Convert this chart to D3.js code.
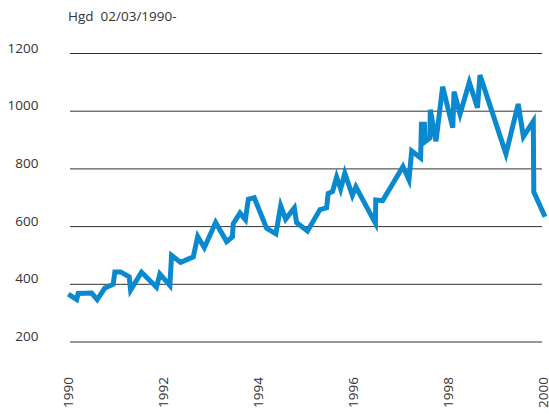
<!DOCTYPE html>
<html>
<head>
<meta charset="utf-8">
<script src="https://cdn.jsdelivr.net/npm/d3@7"></script>
<style>
  body { margin: 0; background: #fff; }
  text { font-family: "Open Sans", "Noto Sans", sans-serif; font-size: 13.5px; fill: #333; }
</style>
</head>
<body>
<div id="chart"></div>
<script>
// Hgd price
const dates = [
  "1990-01-01","1990-03-06","1990-03-18","1990-06-29","1990-08-11","1990-10-09","1990-12-12","1990-12-25",
  "1991-02-07","1991-04-14","1991-04-25","1991-07-18","1991-11-10","1991-12-06",
  "1992-02-21","1992-03-05","1992-05-14","1992-08-19","1992-09-22","1992-11-12",
  "1993-02-07","1993-05-02","1993-06-16","1993-06-22","1993-08-13","1993-09-24","1993-10-16","1993-12-01",
  "1994-03-06","1994-05-16","1994-06-22","1994-07-30","1994-10-05","1994-10-22",
  "1995-01-14","1995-04-20","1995-06-10","1995-06-22","1995-07-26","1995-08-26","1995-09-26","1995-10-28","1995-12-25",
  "1996-01-21","1996-06-19","1996-06-22","1996-08-14",
  "1997-01-17","1997-03-04","1997-03-25","1997-06-02","1997-06-08","1997-07-01","1997-07-05","1997-08-12","1997-08-15","1997-09-28","1997-11-18",
  "1998-02-04","1998-02-14","1998-04-01","1998-06-11","1998-08-13","1998-09-01",
  "1999-03-20","1999-06-22","1999-08-01","1999-10-16","1999-10-20",
  "2000-01-14"
];
const prices = [
  366, 347, 368, 370, 347, 387, 400, 443,
  443, 426, 380, 442, 390, 436,
  396, 500, 476, 495, 566, 527,
  614, 548, 565, 610, 647, 624, 695, 700,
  594, 575, 672, 626, 665, 614,
  585, 659, 665, 715, 722, 772, 730, 785, 708,
  738, 612, 692, 690,
  808, 762, 862, 838, 955, 955, 894, 907, 1005, 896, 1085,
  943, 1068, 990, 1100, 1012, 1125,
  852, 1025, 912, 965, 720,
  634
];
const yTicks = [200, 400, 600, 800, 1000, 1200];
const xTicks = [1990, 1992, 1994, 1996, 1998, 2000];
const title = "Hgd  02/03/1990-";

const width = 549, height = 414;
const parse = d3.timeParse("%Y-%m-%d");
const data = dates.map((d, i) => ({date: parse(d), value: prices[i]}));

const svg = d3.select("#chart").append("svg")
  .attr("width", width)
  .attr("height", height);

const x = d3.scaleTime()
  .domain([new Date(1990, 0, 1), new Date(2000, 0, 1)])
  .range([68.3, 543.3]);

const y = d3.scaleLinear()
  .domain([200, 1200])
  .range([342, 53.5]);

// horizontal grid lines
svg.append("g")
  .selectAll("line")
  .data(yTicks)
  .join("line")
  .attr("x1", 70)
  .attr("x2", 542)
  .attr("y1", d => y(d))
  .attr("y2", d => y(d))
  .attr("stroke", "#333")
  .attr("stroke-width", 1);

// y labels
svg.append("g")
  .selectAll("text")
  .data(yTicks)
  .join("text")
  .attr("x", 38.5)
  .attr("y", d => y(d) - 1)
  .attr("text-anchor", "end")
  .text(d => d);

// x labels, rotated
svg.append("g")
  .selectAll("text")
  .data(xTicks)
  .join("text")
  .attr("transform", d => `translate(${x(new Date(d, 0, 1))},377) rotate(-90)`)
  .attr("text-anchor", "end")
  .attr("dy", "0.36em")
  .text(d => d);

// title
svg.append("text")
  .attr("x", 68)
  .attr("y", 20.5)
  .style("white-space", "pre")
  .attr("xml:space", "preserve")
  .text(title);

// the price line
const line = d3.line()
  .x(d => x(d.date))
  .y(d => y(d.value));

svg.append("path")
  .datum(data)
  .attr("d", line)
  .attr("fill", "none")
  .attr("stroke", "#0a89cf")
  .attr("stroke-width", 5)
  .attr("stroke-linejoin", "miter");
</script>
</body>
</html>
